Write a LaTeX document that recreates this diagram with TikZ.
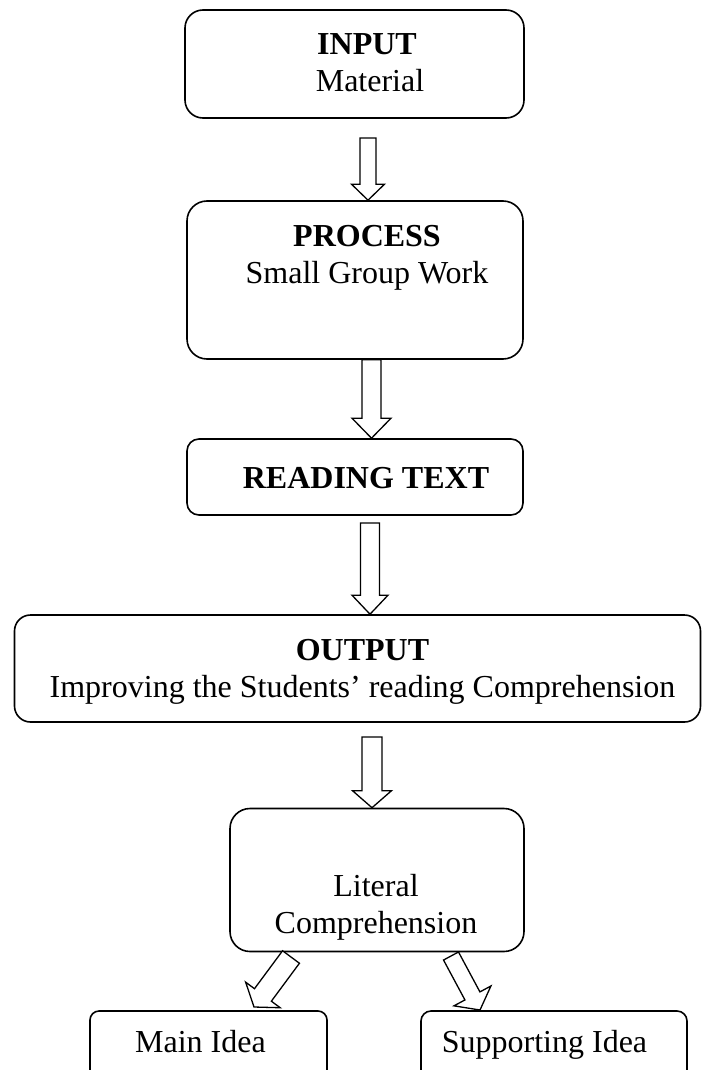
\documentclass[tikz,border=0pt]{standalone}
\usepackage{fontspec}
\setmainfont{Liberation Serif}
\usetikzlibrary{calc}
\tikzset{
  boxstyle/.style={draw=black, line width=1.6pt, rectangle, inner sep=0pt},
  txt/.style={anchor=base, inner sep=0pt, font=\fontsize{32}{37}\selectfont},
  arrowline/.style={draw=black, line width=1.3pt, fill=white, line join=miter},
}
\newcommand{\blockarrow}[5]{%
  \path (#2) coordinate (baE) ($(#2)!#5!(#1)$) coordinate (baB);
  \draw[arrowline] ($(#1)!#3!90:(baE)$) -- ($(baB)!#3!90:(baE)$) -- ($(baB)!#4!90:(baE)$) -- (baE)
    -- ($(baB)!#4!-90:(baE)$) -- ($(baB)!#3!-90:(baE)$) -- ($(#1)!#3!-90:(baE)$) -- cycle;
}
\begin{document}
\begin{tikzpicture}[x=1pt, y=-1pt]
\useasboundingbox[fill=white] (0,0) rectangle (702,1070);
\clip (0,0) rectangle (702,1070);
% boxes
\node[boxstyle, rounded corners=18pt, minimum width=339pt, minimum height=108pt] (box1) at (354.5,64) {};
\node[boxstyle, rounded corners=20pt, minimum width=336pt, minimum height=158pt] (box2) at (355,280) {};
\node[boxstyle, rounded corners=12pt, minimum width=336pt, minimum height=76pt] (box3) at (355,477) {};
\node[boxstyle, rounded corners=16pt, minimum width=686pt, minimum height=107pt] (box4) at (357.5,668.5) {};
\node[boxstyle, rounded corners=20pt, minimum width=294pt, minimum height=143pt] (box5) at (377,880) {};
\node[boxstyle, rounded corners=9pt, minimum width=237pt, minimum height=79pt] (box6) at (208.5,1050.5) {};
\node[boxstyle, rounded corners=10pt, minimum width=266pt, minimum height=79pt] (box7) at (554,1050.5) {};
% texts
\node[txt] (t1a) at (367,55) {\textbf{INPUT}};
\node[txt] (t1b) at (370,92) {Material};
\node[txt] (t2a) at (367,246) {\textbf{PROCESS}};
\node[txt] (t2b) at (367,283) {Small Group Work};
\node[txt] (t3) at (366,488) {\textbf{READING TEXT}};
\node[txt] (t4a) at (362.5,660) {\textbf{OUTPUT}};
\node[txt] (t4b) at (362.5,697) {Improving the Students’ reading Comprehension};
\node[txt] (t5a) at (376,896) {Literal};
\node[txt] (t5b) at (376,933) {Comprehension};
\node[txt] (t6) at (200.5,1052) {Main Idea};
\node[txt] (t7) at (544.5,1052) {Supporting Idea};
% arrow end points
\coordinate (a1s) at (368,138);   \coordinate (a1e) at (a1s |- box2.north);
\coordinate (a2x) at (371.5,0);   \coordinate (a2s) at (a2x |- box2.south); \coordinate (a2e) at (a2x |- box3.north);
\coordinate (a3s) at (370,523);   \coordinate (a3e) at (a3s |- box4.north);
\coordinate (a4s) at (372,737);   \coordinate (a4e) at (a4s |- box5.north);
\coordinate (a5s) at (291,957);   \coordinate (a5e) at (254,1007);
\coordinate (a6s) at (451,956);   \coordinate (a6e) at (480,1010);
% arrows
\blockarrow{a1s}{a1e}{8pt}{16.5pt}{16pt}
\blockarrow{a2s}{a2e}{9.5pt}{19.5pt}{20pt}
\blockarrow{a3s}{a3e}{9.5pt}{18pt}{19pt}
\blockarrow{a4s}{a4e}{10pt}{19.5pt}{17pt}
\blockarrow{a5s}{a5e}{10.5pt}{21.5pt}{15pt}
\blockarrow{a6s}{a6e}{8.5pt}{21pt}{16pt}
\end{tikzpicture}
\end{document}
